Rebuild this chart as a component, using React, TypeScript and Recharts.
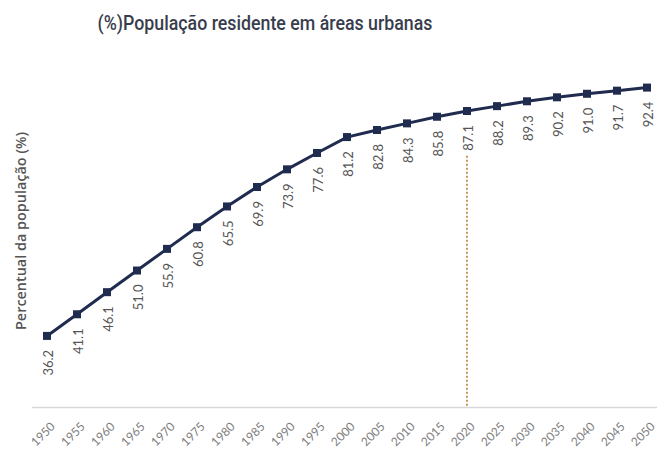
import React from "react";
import { LineChart, Line, XAxis, YAxis, ReferenceLine, LabelList } from "recharts";

const years = ["1950","1955","1960","1965","1970","1975","1980","1985","1990","1995","2000","2005","2010","2015","2020","2025","2030","2035","2040","2045","2050"];
const urbanPct = [36.2,41.1,46.1,51.0,55.9,60.8,65.5,69.9,73.9,77.6,81.2,82.8,84.3,85.8,87.1,88.2,89.3,90.2,91.0,91.7,92.4];
const refYear = "2020";
const refLineTop = 77;
const yDomain: [number, number] = [20, 100];

const data = years.map((y, i) => ({ year: y, value: urbanPct[i] }));

const NAVY = "#1f2b4f";
const W = 657;
const H = 453;

const SquareDot = (props: any) => {
  const { cx, cy } = props;
  if (cx == null || cy == null) return null;
  return <rect x={cx - 4} y={cy - 4} width={8} height={8} fill={NAVY} />;
};

const ValueLabel = (props: any) => {
  const { x, y, value } = props;
  const ax = x + 1;
  const ay = y + 14;
  return (
    <text
      x={ax}
      y={ay}
      transform={`rotate(-90, ${ax}, ${ay})`}
      textAnchor="end"
      dominantBaseline="central"
      fontSize={13}
      fontFamily="Lato, 'Open Sans', sans-serif"
      fill="#555"
    >
      {Number(value).toFixed(1)}
    </text>
  );
};

const YearTick = (props: any) => {
  const { x, y, payload } = props;
  const ax = x + 2;
  const ay = y + 5;
  return (
    <text
      x={ax}
      y={ay}
      transform={`rotate(-45, ${ax}, ${ay})`}
      textAnchor="end"
      dominantBaseline="hanging"
      fontSize={12}
      fontFamily="Lato, 'Open Sans', sans-serif"
      fill="#808080"
    >
      {payload.value}
    </text>
  );
};

export default function App() {
  return (
    <div style={{ position: "relative", width: W, height: H, overflow: "hidden", background: "#fff" }}>
      <style>{"html,body{margin:0;padding:0;overflow:hidden;background:#fff}"}</style>
      <svg width={W} height={H} style={{ position: "absolute", left: 0, top: 0, pointerEvents: "none" }}>
        <text
          x={265}
          y={30}
          textAnchor="middle"
          fontSize={20}
          fontWeight={500}
          fontFamily="'Roboto', sans-serif"
          fill="#383d4e"
          textLength={335}
          lengthAdjust="spacingAndGlyphs"
        >
          (%)População residente em áreas urbanas
        </text>
        <text
          x={20}
          y={231}
          transform="rotate(-90, 20, 231)"
          textAnchor="middle"
          dominantBaseline="central"
          fontSize={14}
          fontWeight={600}
          fontFamily="'Open Sans', sans-serif"
          fill="#555"
          textLength={198}
          lengthAdjust="spacingAndGlyphs"
        >
          Percentual da população (%)
        </text>
      </svg>
      <div style={{ position: "absolute", left: 0, top: 0 }}>
        <LineChart width={W} height={H} data={data} margin={{ top: 54, right: 0, bottom: 0, left: 32 }}>
          <XAxis
            dataKey="year"
            height={45.5}
            padding={{ left: 15, right: 10 }}
            tick={<YearTick />}
            tickLine={false}
            axisLine={{ stroke: "#d9d9d9", strokeWidth: 1.5 }}
            interval={0}
          />
          <YAxis hide domain={yDomain} />
          <ReferenceLine
            segment={[{ x: refYear, y: refLineTop }, { x: refYear, y: yDomain[0] }]}
            stroke="#c9955a"
            strokeWidth={2}
            strokeDasharray="2 2"
          />
          <Line
            type="linear"
            dataKey="value"
            stroke={NAVY}
            strokeWidth={3}
            dot={<SquareDot />}
            activeDot={false}
            isAnimationActive={false}
          >
            <LabelList dataKey="value" content={<ValueLabel />} />
          </Line>
        </LineChart>
      </div>
    </div>
  );
}
